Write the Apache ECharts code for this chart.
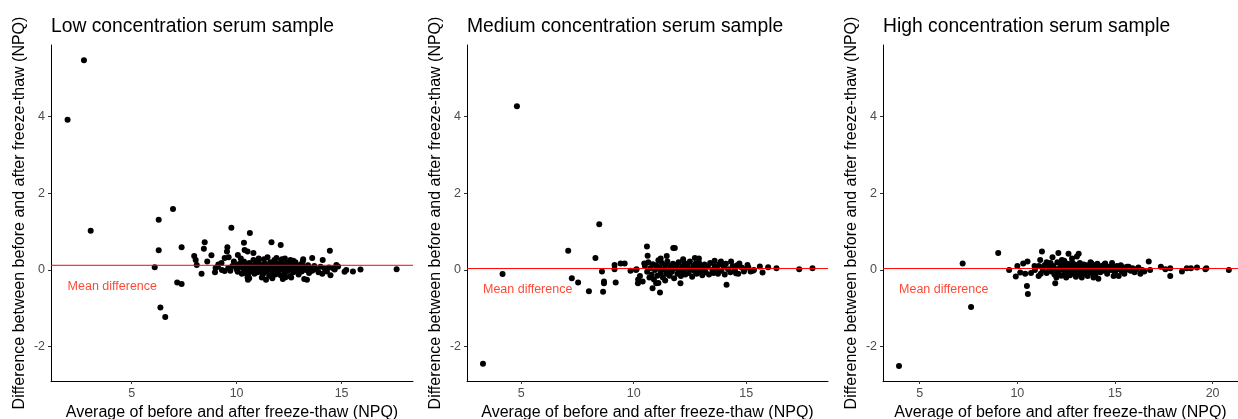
<!DOCTYPE html>
<html>
<head>
<meta charset="utf-8">
<title>Freeze-thaw Bland-Altman</title>
<script src="https://cdn.jsdelivr.net/npm/echarts@6/dist/echarts.min.js"></script>
<style>
    html, body {margin: 0; padding: 0; background: #fff;}
    #main {width: 1238px; height: 419px;}
</style>
</head>
<body>
<div id="main"></div>
<script>
// 各面板数据 [平均值, 差值]
var titles = ['Low concentration serum sample', 'Medium concentration serum sample', 'High concentration serum sample'];

var lowPoints = [
    [1.95, 3.92], [2.73, 5.47], [3.05, 1.02], [6.1, 0.07], [6.29, 1.31], [6.29, 0.51], [6.37, -0.98], [6.6, -1.23],
    [6.97, 1.59], [7.17, -0.33], [7.38, -0.37], [7.38, 0.59], [7.98, 0.36], [8.05, 0.26], [8.1, 0.13], [8.33, -0.1],
    [8.48, 0.72], [8.44, 0.55], [8.8, 0.38], [8.6, 0.22], [8.97, -0.06], [9.0, 0.05], [9.13, 0.14], [9.28, 0.18],
    [9.43, 0.31], [9.43, -0.03], [9.56, 0.59], [9.54, 0.48], [9.62, 0.33], [9.75, 1.1], [9.8, 0.1], [9.87, 0.22],
    [10.06, 0.39], [10.2, 0.18], [10.35, 0.71], [10.38, 0.52], [10.52, 0.48], [10.63, 0.96], [10.54, -0.26], [10.52, -0.2],
    [10.8, 0.44], [10.8, 0.26], [11.66, 0.72], [12.1, 0.65], [11.47, 0.33], [11.4, -0.26], [11.9, 0.31], [12.16, 0.28],
    [12.33, -0.19], [12.56, 0.26], [13.17, 0.28], [13.6, 0.31], [13.22, -0.24], [13.35, -0.26], [14.1, 0.26], [14.44, 0.5],
    [14.47, -0.14], [14.08, -0.1], [14.75, 0.13], [14.83, 0.09], [15.14, -0.05], [15.22, 0.0], [15.54, -0.04], [15.9, 0.01],
    [17.62, 0.02], [14.67, 0.01],
    [9.6, 0.05], [9.7, -0.02], [9.9, 0.12], [10.0, 0.02], [10.05, -0.05], [10.1, 0.15], [10.15, 0.08], [10.25, -0.1],
    [10.3, 0.04], [10.35, 0.22], [10.4, -0.08], [10.45, 0.12], [10.5, 0.0], [10.55, -0.12], [10.6, 0.18], [10.65, 0.06],
    [10.7, -0.04], [10.75, 0.1], [10.8, 0.0], [10.85, -0.1], [10.9, 0.14], [10.95, 0.04], [11.0, -0.06], [11.05, 0.2],
    [11.1, 0.08], [11.15, -0.02], [11.2, 0.12], [11.25, -0.12], [11.3, 0.05], [11.35, 0.16], [11.4, -0.05], [11.45, 0.1],
    [11.5, 0.0], [11.55, -0.15], [11.6, 0.2], [11.62, 0.06], [11.7, -0.08], [11.75, 0.12], [11.8, 0.02], [11.85, -0.12],
    [11.9, 0.16], [11.95, 0.06], [12.0, -0.04], [12.05, 0.1], [12.1, -0.14], [12.12, 0.22], [12.2, 0.02], [12.25, 0.14],
    [12.3, -0.08], [12.35, 0.06], [12.4, 0.18], [12.45, -0.02], [12.5, 0.1], [12.55, -0.16], [12.6, 0.04], [12.65, 0.14],
    [12.7, -0.06], [12.75, 0.08], [12.8, 0.2], [12.85, -0.02], [12.9, 0.1], [12.95, -0.12], [13.0, 0.04], [13.05, 0.14],
    [13.1, -0.04], [13.2, 0.08], [13.3, 0.0], [13.4, 0.12], [13.45, -0.08], [13.5, 0.05], [13.6, -0.02], [13.7, 0.1],
    [13.8, 0.02], [13.9, -0.06], [14.0, 0.08], [14.2, 0.03], [14.3, -0.04], [14.4, 0.06], [14.6, 0.04], [11.3, 0.28],
    [11.8, 0.26], [12.3, 0.3], [12.7, 0.24], [11.2, -0.2], [11.7, -0.22], [12.2, -0.24], [12.6, -0.2], [10.6, -0.22],
    [13.15, 0.22], [11.05, 0.3], [10.2, 0.3], [9.3, 0.0], [9.1, 0.08]
];

var mediumPoints = [
    [3.3, -2.45], [4.17, -0.11], [4.81, 4.27], [7.09, 0.5], [7.25, -0.22], [7.53, -0.33], [8.01, -0.56], [8.3, 0.31],
    [8.47, 1.19], [8.59, -0.04], [8.64, -0.57], [8.68, -0.3], [8.68, -0.35], [9.15, 0.13], [9.15, 0.02], [9.2, -0.33],
    [9.42, 0.17], [9.6, 0.17], [9.86, -0.02], [10.13, 0.02], [10.19, -0.35], [10.28, -0.16], [10.47, 0.17], [10.59, 0.61],
    [10.62, 0.37], [10.84, -0.48], [11.17, -0.59], [11.1, -0.34], [11.47, 0.36], [11.76, 0.57], [11.83, 0.57], [12.08, -0.35],
    [12.72, 0.31], [14.13, -0.39], [15.61, 0.09], [15.73, -0.07], [15.98, 0.07], [16.35, 0.04], [17.36, 0.02], [17.95, 0.04],
    [15.06, 0.13], [14.92, 0.02], [14.7, 0.17], [14.33, 0.22], [13.88, 0.22], [14.55, -0.09], [15.2, -0.04], [15.35, 0.0],
    [10.5, 0.1], [10.6, -0.05], [10.65, 0.2], [10.7, -0.2], [10.75, 0.05], [10.8, -0.12], [10.85, 0.15], [10.9, -0.25],
    [10.95, 0.0], [11.0, 0.12], [11.05, -0.15], [11.1, 0.25], [11.15, 0.05], [11.2, -0.08], [11.25, 0.18], [11.3, -0.2],
    [11.35, 0.02], [11.4, 0.12], [11.45, -0.1], [11.5, 0.22], [11.55, 0.0], [11.6, -0.15], [11.65, 0.1], [11.7, -0.05],
    [11.75, 0.16], [11.8, -0.22], [11.85, 0.04], [11.9, 0.12], [11.95, -0.1], [12.0, 0.2], [12.05, 0.0], [12.1, -0.16],
    [12.15, 0.08], [12.2, -0.04], [12.25, 0.18], [12.3, -0.12], [12.35, 0.05], [12.4, 0.14], [12.45, -0.08], [12.5, 0.22],
    [12.55, 0.02], [12.6, -0.18], [12.65, 0.1], [12.7, -0.03], [12.75, 0.16], [12.8, -0.1], [12.85, 0.06], [12.9, 0.2],
    [12.95, -0.05], [13.0, 0.1], [13.05, -0.14], [13.1, 0.02], [13.15, 0.14], [13.2, -0.06], [13.3, 0.08], [13.35, -0.12],
    [13.4, 0.18], [13.5, 0.0], [13.55, -0.08], [13.6, 0.1], [13.7, 0.04], [13.75, -0.1], [13.8, 0.14], [13.9, -0.02],
    [14.0, 0.08], [14.05, -0.12], [14.1, 0.16], [14.2, 0.02], [14.3, -0.06], [14.4, 0.1], [14.5, 0.0], [14.6, 0.12],
    [14.65, -0.1], [14.8, 0.06], [14.9, -0.04], [15.1, 0.06], [15.3, -0.02], [10.4, -0.3], [11.0, -0.35], [11.4, -0.28],
    [10.2, -0.25], [10.1, 0.0], [11.2, 0.3], [12.2, 0.28], [12.9, 0.3], [13.6, 0.24]
];

var highPoints = [
    [3.94, -2.51], [7.2, 0.17], [7.63, -0.97], [9.02, 0.44], [9.58, 0.0], [9.92, -0.17], [10.0, 0.1], [10.15, -0.07],
    [10.3, 0.17], [10.4, -0.1], [10.49, -0.42], [10.54, -0.63], [10.52, 0.22], [10.88, 0.1], [11.17, 0.26], [11.26, 0.48],
    [11.09, -0.16], [11.34, 0.08], [11.8, 0.33], [11.94, -0.35], [12.1, 0.44], [12.28, 0.26], [12.62, 0.42], [12.8, 0.3],
    [13.14, 0.42], [13.05, 0.35], [13.3, -0.2], [13.8, 0.17], [13.9, -0.2], [14.15, -0.23], [14.5, 0.17], [14.93, -0.16],
    [15.19, -0.16], [15.48, -0.1], [15.62, 0.08], [16.3, -0.1], [16.73, 0.22], [16.8, 0.0], [17.35, 0.08], [17.58, 0.02],
    [17.83, 0.04], [17.83, -0.16], [18.43, -0.04], [18.68, 0.04], [18.89, 0.04], [19.2, 0.06], [19.63, 0.02], [19.68, 0.04],
    [20.83, 0.0],
    [11.3, 0.0], [11.4, 0.12], [11.5, -0.08], [11.6, 0.06], [11.7, 0.18], [11.75, -0.04], [11.85, 0.1], [11.9, -0.12],
    [12.0, 0.02], [12.05, 0.2], [12.1, -0.06], [12.2, 0.08], [12.25, -0.15], [12.3, 0.14], [12.35, 0.0], [12.4, 0.24],
    [12.45, -0.1], [12.5, 0.06], [12.55, 0.16], [12.6, -0.04], [12.65, 0.1], [12.7, -0.14], [12.75, 0.02], [12.8, 0.2],
    [12.85, -0.08], [12.9, 0.08], [12.95, 0.14], [13.0, -0.02], [13.05, 0.1], [13.1, -0.12], [13.15, 0.04], [13.2, 0.18],
    [13.25, -0.06], [13.35, 0.06], [13.4, 0.14], [13.45, -0.1], [13.5, 0.02], [13.55, 0.12], [13.6, -0.04], [13.7, 0.08],
    [13.75, 0.2], [13.8, -0.08], [13.85, 0.04], [13.95, 0.12], [14.0, -0.12], [14.05, 0.0], [14.1, 0.16], [14.2, 0.06],
    [14.25, -0.06], [14.3, 0.1], [14.4, -0.02], [14.45, 0.14], [14.55, 0.04], [14.6, -0.1], [14.7, 0.08], [14.8, 0.0],
    [14.85, 0.18], [14.95, 0.06], [15.0, -0.06], [15.1, 0.1], [15.2, 0.02], [15.3, 0.12], [15.35, -0.04], [15.45, 0.06],
    [15.55, 0.0], [15.7, 0.08], [15.8, -0.02], [15.9, 0.04], [16.0, -0.06], [16.1, 0.02], [16.2, 0.06], [16.4, 0.0],
    [16.5, -0.04], [11.2, -0.1], [11.5, 0.2], [12.0, -0.2], [12.5, -0.2], [13.0, -0.18], [13.6, -0.16], [11.1, 0.1],
    [10.9, 0.0], [10.7, -0.08]
];

var meanDiff = [0.12, 0.035, 0.035];
var meanLabelPos = [[1.95, -0.44], [3.3, -0.5], [3.94, -0.52]];
var xRanges = [[1.16, 18.4], [2.59, 18.64], [3.12, 21.3]];
var xTicks = [[5, 10, 15], [5, 10, 15], [5, 10, 15, 20]];
var yTicks = [-2, 0, 2, 4];

/**
 * 页面初始化
 * */
function init() {
    var myChart = echarts.init(document.getElementById('main'));
    var font = "'Liberation Sans', Arial, sans-serif";
    var allPoints = [lowPoints, mediumPoints, highPoints];
    var lefts = [51, 467, 883];
    var widths = [362, 361, 355];

    var grid = [], xAxis = [], yAxis = [], title = [], series = [];
    for (var i = 0; i < 3; i++) {
        grid.push({
            left: lefts[i], top: 45, width: widths[i], height: 336,
            containLabel: false, outerBoundsMode: 'none'
        });
        title.push({
            text: titles[i], left: lefts[i], top: 17, padding: 0,
            textStyle: {fontFamily: font, fontSize: 19.3, fontWeight: 'normal', color: '#000'}
        });
        xAxis.push({
            type: 'value', gridIndex: i, min: xRanges[i][0], max: xRanges[i][1],
            name: 'Average of before and after freeze-thaw (NPQ)',
            nameLocation: 'middle', nameGap: 19,
            nameTextStyle: {fontFamily: font, fontSize: 16, color: '#000'},
            axisLine: {show: true, onZero: false, lineStyle: {color: '#000', width: 1}},
            axisTick: {show: true, length: 3, lineStyle: {color: '#333'}, customValues: xTicks[i]},
            axisLabel: {fontFamily: font, fontSize: 12.5, color: '#4d4d4d', margin: 6, customValues: xTicks[i]},
            splitLine: {show: false}
        });
        yAxis.push({
            type: 'value', gridIndex: i, min: -2.9, max: 5.87,
            name: 'Difference between before and after freeze-thaw (NPQ)',
            nameLocation: 'middle', nameGap: 23,
            nameTextStyle: {fontFamily: font, fontSize: 16, color: '#000'},
            axisLine: {show: true, onZero: false, lineStyle: {color: '#000', width: 1}},
            axisTick: {show: true, length: 3, lineStyle: {color: '#333'}, customValues: yTicks},
            axisLabel: {fontFamily: font, fontSize: 12.5, color: '#4d4d4d', margin: 6, customValues: yTicks},
            splitLine: {show: false}
        });
        series.push({
            type: 'scatter', xAxisIndex: i, yAxisIndex: i,
            data: allPoints[i], symbolSize: 6,
            itemStyle: {color: '#000', opacity: 1},
            z: 3
        });
        // 均值线，画在点上面
        series.push({
            type: 'line', xAxisIndex: i, yAxisIndex: i,
            data: [[xRanges[i][0], meanDiff[i]], [xRanges[i][1], meanDiff[i]]],
            showSymbol: false, symbol: 'none', silent: true,
            lineStyle: {color: '#ff0000', width: 1, opacity: 1},
            itemStyle: {color: '#ff0000'},
            z: 5
        });
        // 均值文字
        series.push({
            type: 'scatter', xAxisIndex: i, yAxisIndex: i,
            data: [meanLabelPos[i]], symbolSize: 0, silent: true,
            label: {
                show: true, position: 'right', distance: 0,
                formatter: 'Mean difference',
                fontFamily: font, fontSize: 12.5, color: '#ff1a00'
            },
            z: 5
        });
    }

    myChart.setOption({
        animation: false,
        backgroundColor: '#fff',
        title: title,
        grid: grid,
        xAxis: xAxis,
        yAxis: yAxis,
        series: series
    });
}

init();
</script>
</body>
</html>
